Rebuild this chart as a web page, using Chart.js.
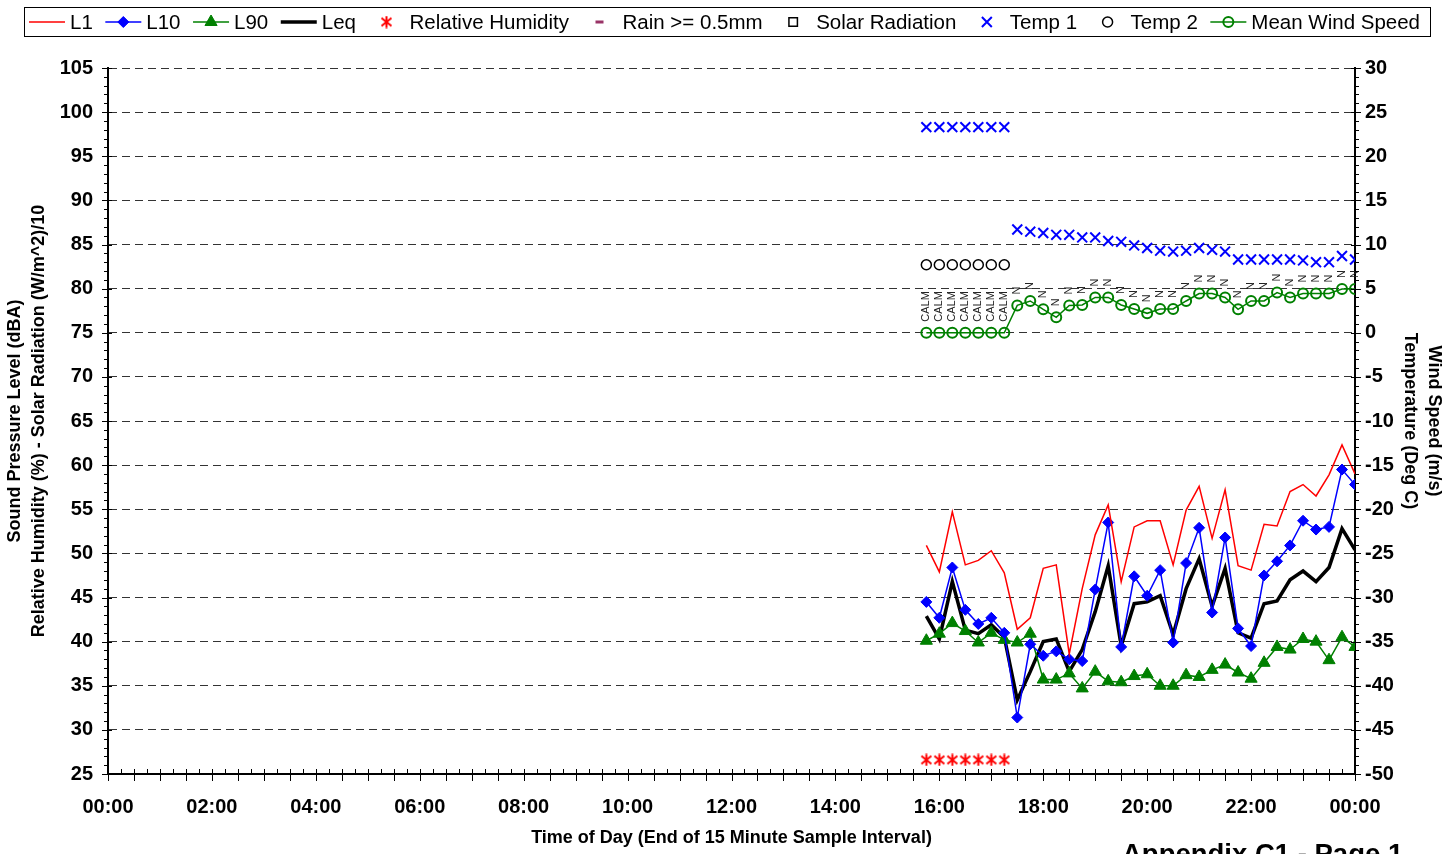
<!DOCTYPE html>
<html><head><meta charset="utf-8">
<script src="https://cdn.jsdelivr.net/npm/chart.js@4.4.1/dist/chart.umd.min.js"></script>
<style>html,body{margin:0;padding:0;background:#fff;overflow:hidden}canvas{display:block}</style>
</head><body>
<canvas id="c" width="1453" height="854"></canvas>
<script>
// ---- data ----
const timeLabels = ['15:45','16:00','16:15','16:30','16:45','17:00','17:15','17:30','17:45','18:00','18:15','18:30','18:45','19:00','19:15','19:30','19:45','20:00','20:15','20:30','20:45','21:00','21:15','21:30','21:45','22:00','22:15','22:30','22:45','23:00','23:15','23:30','23:45','00:00'];
const xTickLabels = ['00:00','02:00','04:00','06:00','08:00','10:00','12:00','14:00','16:00','18:00','20:00','22:00','00:00'];
const L1  = [50.9,47.9,54.7,48.7,49.2,50.3,47.8,41.4,42.7,48.3,48.7,38.6,46.0,52.1,55.5,46.8,53.0,53.7,53.7,48.7,54.9,57.6,51.7,57.2,48.6,48.1,53.3,53.1,57.0,57.8,56.5,58.9,62.3,59.0];
const L10 = [44.5,42.7,48.4,43.6,42.0,42.7,41.0,31.4,39.7,38.4,38.9,38.0,37.8,45.9,53.5,39.4,47.4,45.2,48.1,39.9,48.9,52.9,43.3,51.8,41.5,39.5,47.5,49.1,50.9,53.7,52.7,53.0,59.5,57.8];
const L90 = [40.1,40.9,42.1,41.2,39.9,41.0,40.2,39.9,40.9,35.7,35.7,36.4,34.7,36.6,35.5,35.4,36.1,36.3,35.0,35.0,36.2,36.0,36.8,37.4,36.5,35.8,37.6,39.4,39.1,40.3,40.0,37.9,40.5,39.4];
const Leq = [42.9,40.3,46.8,41.3,40.9,41.9,40.5,33.4,36.6,40.0,40.3,36.6,39.1,43.4,48.6,39.5,44.3,44.5,45.2,40.8,46.0,49.4,44.0,48.3,41.0,40.4,44.3,44.6,47.0,48.0,46.8,48.4,52.8,50.4];
const relHumidity = [26.6,26.6,26.6,26.6,26.6,26.6,26.6,null,null,null,null,null,null,null,null,null,null,null,null,null,null,null,null,null,null,null,null,null,null,null,null,null,null,null];
const rain = [];
const solarRadiation = [];
const temp1 = [23.3,23.3,23.3,23.3,23.3,23.3,23.3,11.7,11.45,11.3,11.1,11.1,10.8,10.8,10.4,10.3,9.9,9.6,9.3,9.2,9.3,9.6,9.4,9.2,8.3,8.3,8.3,8.3,8.3,8.2,8.0,8.0,8.7,8.3];
const temp2 = [7.7,7.7,7.7,7.7,7.7,7.7,7.7,null,null,null,null,null,null,null,null,null,null,null,null,null,null,null,null,null,null,null,null,null,null,null,null,null,null,null];
const windSpeed = [0,0,0,0,0,0,0,3.1,3.6,2.65,1.75,3.1,3.15,4.0,4.0,3.15,2.7,2.2,2.7,2.7,3.6,4.45,4.45,4.0,2.65,3.6,3.6,4.55,4.0,4.45,4.45,4.45,4.95,4.95];
const windDir = ['CALM','CALM','CALM','CALM','CALM','CALM','CALM','N','N','N','N','N','N','N','N','N','N','N','N','N','N','N','N','N','N','N','N','N','N','N','N','N','N','N'];

// time strings -> hours of day (wrapping past midnight)
const hours = [];
timeLabels.forEach((t, i) => {
  const [h, m] = t.split(':').map(Number);
  let v = h + m / 60;
  if (i > 0 && v < hours[i - 1]) v += 24;
  hours.push(v);
});
const pts = arr => arr.map((v, i) => ({x: hours[i], y: v}));

const FONT = '"Liberation Sans", Arial, sans-serif';
const GREEN = '#008000';

// six-armed asterisk marker (Excel style) for relative humidity
function asteriskMarker(color){
  const c = document.createElement('canvas');
  c.width = 13; c.height = 13;
  const g = c.getContext('2d');
  g.strokeStyle = color; g.lineWidth = 2; g.lineCap = 'butt';
  g.beginPath();
  g.moveTo(6.5, 0.5); g.lineTo(6.5, 12.5);
  g.moveTo(1.5, 2.5); g.lineTo(11.5, 10.5);
  g.moveTo(11.5, 2.5); g.lineTo(1.5, 10.5);
  g.stroke();
  return c;
}
const rhMarker = asteriskMarker('#ff0000');

const datasets = [
  {label:'L1', data:pts(L1), borderColor:'#ff0000', backgroundColor:'#ff0000', borderWidth:1.5, pointRadius:0, yAxisID:'y'},
  {label:'L10', data:pts(L10), borderColor:'#0000ff', backgroundColor:'#0000ff', borderWidth:1.5, pointStyle:'rectRot', pointRadius:5.5, pointBorderWidth:1, pointBackgroundColor:'#0000ff', yAxisID:'y'},
  {label:'L90', data:pts(L90), borderColor:GREEN, backgroundColor:GREEN, borderWidth:1.5, pointStyle:'triangle', pointRadius:7, pointBorderWidth:1, pointBackgroundColor:GREEN, yAxisID:'y'},
  {label:'Leq', data:pts(Leq), borderColor:'#000', backgroundColor:'#000', borderWidth:3.5, pointRadius:0, yAxisID:'y'},
  {label:'Relative Humidity', data:pts(relHumidity), showLine:false, borderColor:'#ff0000', backgroundColor:'#ff0000', pointStyle:rhMarker, pointRadius:6, pointBorderWidth:2, yAxisID:'y'},
  {label:'Rain >= 0.5mm', data:pts(rain), showLine:false, borderColor:'#993366', backgroundColor:'#993366', pointStyle:'line', pointRadius:4, pointBorderWidth:3, yAxisID:'y'},
  {label:'Solar Radiation', data:pts(solarRadiation), showLine:false, borderColor:'#000', backgroundColor:'#fff', pointStyle:'rect', pointRadius:6, pointBorderWidth:1.5, yAxisID:'y'},
  {label:'Temp 1', data:pts(temp1), showLine:false, borderColor:'#0000ff', backgroundColor:'#0000ff', pointStyle:'crossRot', pointRadius:7, pointBorderWidth:2, yAxisID:'y1'},
  {label:'Temp 2', data:pts(temp2), showLine:false, borderColor:'#000', backgroundColor:'rgba(0,0,0,0)', pointStyle:'circle', pointRadius:5, pointBorderWidth:1.5, yAxisID:'y1'},
  {label:'Mean Wind Speed', data:pts(windSpeed), borderColor:GREEN, backgroundColor:'rgba(0,0,0,0)', borderWidth:1.5, pointStyle:'circle', pointRadius:5, pointBorderWidth:2, pointBackgroundColor:'rgba(0,0,0,0)', yAxisID:'y1'}
];

const zeroPad = s => { s.paddingLeft = 0; s.paddingRight = 0; s.paddingTop = 0; s.paddingBottom = 0; };

// minor / major tick marks on all three axes
const axisTicks = {
  id:'axisTicks',
  afterDraw(chart){
    const {ctx, chartArea:a, scales:{x, y, y1}} = chart;
    ctx.save();
    ctx.strokeStyle = '#000'; ctx.lineWidth = 1;
    ctx.beginPath();
    for (let v = y.min; v <= y.max; v++) {
      const p = Math.round(y.getPixelForValue(v)) + 0.5, major = v % 5 === 0;
      ctx.moveTo(a.left - (major ? 6 : 4), p); ctx.lineTo(a.left + (major ? 4 : 0), p);
    }
    for (let v = y1.min; v <= y1.max; v++) {
      const p = Math.round(y1.getPixelForValue(v)) + 0.5, major = v % 5 === 0;
      ctx.moveTo(a.right - (major ? 4 : 0), p); ctx.lineTo(a.right + (major ? 6 : 4), p);
    }
    for (let q = 0; q <= (x.max - x.min) * 4; q++) {
      const p = Math.round(x.getPixelForValue(x.min + q / 4)) + 0.5;
      ctx.moveTo(p, a.bottom - 5); ctx.lineTo(p, a.bottom + (q % 2 === 0 ? 7 : 0));
    }
    ctx.stroke();
    ctx.restore();
  }
};

// wind direction labels above the wind speed points
const windLabels = {
  id:'windLabels',
  afterDatasetsDraw(chart){
    const idx = chart.data.datasets.findIndex(d => d.label === 'Mean Wind Speed');
    const meta = chart.getDatasetMeta(idx);
    const {ctx} = chart;
    ctx.save();
    ctx.font = '11px ' + FONT;
    ctx.fillStyle = '#222';
    ctx.textAlign = 'left'; ctx.textBaseline = 'middle';
    meta.data.forEach((el, i) => {
      if (!windDir[i]) return;
      ctx.save();
      ctx.translate(el.x, el.y - 11);
      ctx.rotate(-Math.PI / 2);
      ctx.fillText(windDir[i], 0, 0);
      ctx.restore();
    });
    ctx.restore();
  }
};

// boxed legend at the top, symbols drawn like the datasets
const boxLegend = {
  id:'boxLegend',
  afterDraw(chart){
    const {ctx} = chart;
    const box = {l:24, t:7, r:1430, b:36};
    const sym = 40, gapText = 3;
    ctx.save();
    ctx.fillStyle = '#fff';
    ctx.fillRect(box.l, box.t, box.r - box.l, box.b - box.t);
    ctx.strokeStyle = '#000'; ctx.lineWidth = 1;
    ctx.strokeRect(box.l + 0.5, box.t + 0.5, box.r - box.l, box.b - box.t);
    ctx.font = '20.5px ' + FONT;
    const ds = chart.data.datasets;
    const widths = ds.map(d => sym + gapText + ctx.measureText(d.label).width);
    const span = 1393;
    const gap = (span - widths.reduce((s, w) => s + w, 0)) / (ds.length - 1);
    let x = 27;
    const cy = (box.t + box.b) / 2 + 0.5;
    ds.forEach((d, i) => {
      if (d.showLine !== false) {
        ctx.strokeStyle = d.borderColor; ctx.lineWidth = d.borderWidth;
        ctx.beginPath(); ctx.moveTo(x + 2, cy); ctx.lineTo(x + sym - 2, cy); ctx.stroke();
      }
      if (d.pointRadius > 0) {
        ctx.strokeStyle = d.borderColor;
        ctx.fillStyle = d.pointBackgroundColor || d.backgroundColor;
        ctx.lineWidth = d.pointBorderWidth;
        Chart.helpers.drawPoint(ctx, {pointStyle:d.pointStyle, radius:d.pointRadius, borderWidth:d.pointBorderWidth, rotation:0}, x + sym / 2, cy);
      }
      ctx.fillStyle = '#000'; ctx.textAlign = 'left'; ctx.textBaseline = 'middle';
      ctx.fillText(d.label, x + sym + gapText, cy + 1);
      x += widths[i] + gap;
    });
    // page footer
    ctx.font = 'bold 27.5px ' + FONT;
    ctx.textBaseline = 'alphabetic';
    ctx.fillText('Appendix C1 - Page 1', 1122, 863);
    ctx.restore();
  }
};

new Chart(document.getElementById('c'), {
  type:'line',
  data:{datasets},
  options:{
    responsive:false, animation:false, devicePixelRatio:1,
    layout:{padding:{top:68, left:0, right:0, bottom:0}},
    plugins:{legend:{display:false}, tooltip:{enabled:false}},
    elements:{line:{tension:0}},
    scales:{
      x:{type:'linear', min:0, max:24,
        afterBuildTicks: s => { s.ticks = xTickLabels.map((l, i) => ({value: i * 2})); },
        ticks:{callback:(v, i) => xTickLabels[i], font:{family:FONT, size:20, weight:'bold'}, color:'#000', padding:21, maxRotation:0, autoSkip:false},
        grid:{display:false, drawTicks:false},
        border:{display:true, color:'#000', width:2},
        title:{display:true, text:'Time of Day (End of 15 Minute Sample Interval)', font:{family:FONT, size:18, weight:'bold'}, color:'#000', padding:{top:0, bottom:5}},
        afterFit: s => { zeroPad(s); s.height = 80; }
      },
      y:{position:'left', min:25, max:105,
        ticks:{stepSize:5, font:{family:FONT, size:20, weight:'bold'}, color:'#000', padding:15},
        grid:{color:'#333', lineWidth:1, drawTicks:false},
        border:{display:true, color:'#000', width:2, dash:[8,5]},
        title:{display:true, text:['Sound Pressure Level (dBA)', 'Relative Humidity (%) - Solar Radiation (W/m^2)/10'], font:{family:FONT, size:18, weight:'bold', lineHeight:1.28}, color:'#000', padding:{top:4, bottom:0}},
        afterFit: s => { zeroPad(s); s.width = 108; }
      },
      y1:{position:'right', min:-50, max:30,
        ticks:{stepSize:5, font:{family:FONT, size:20, weight:'bold'}, color:'#000', padding:10},
        grid:{display:false, drawTicks:false},
        border:{display:true, color:'#000', width:2},
        title:{display:true, text:['Wind Speed (m/s)', 'Temperature (Deg C)'], font:{family:FONT, size:18, weight:'bold', lineHeight:1.28}, color:'#000', padding:{top:8, bottom:0}},
        afterFit: s => { zeroPad(s); s.width = 98; }
      }
    }
  },
  plugins:[axisTicks, windLabels, boxLegend]
});
</script>
</body></html>
